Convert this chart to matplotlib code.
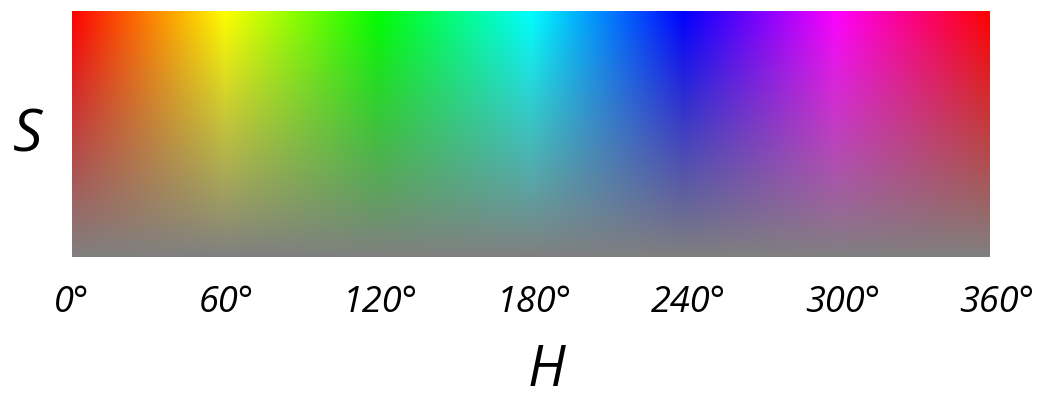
import numpy as np
import matplotlib
matplotlib.use("Agg")
import matplotlib.pyplot as plt
import colorsys

hue_ticks = [0, 60, 120, 180, 240, 300, 360]
tick_labels = ["0°", "60°", "120°", "180°", "240°", "300°", "360°"]
hue_range = [0, 360]
sat_range = [0, 1]
lightness = 0.5

n_h, n_s = 720, 200
hues = np.linspace(hue_range[0], hue_range[1], n_h)
sats = np.linspace(sat_range[1], sat_range[0], n_s)
img = np.zeros((n_s, n_h, 3))
for i, s in enumerate(sats):
    for j, h in enumerate(hues):
        img[i, j] = colorsys.hls_to_rgb(h / 360.0, lightness, s)

plt.rcParams['font.family'] = ['Open Sans', 'DejaVu Sans']
fig = plt.figure(figsize=(10.43, 4.05), dpi=100)
ax = fig.add_axes([0.069, 0.365, 0.887, 0.608])
ax.imshow(img, extent=(0, 357, 0, 1), aspect='auto', interpolation='bilinear')
ax.set_xlim(0, 360)
ax.set_ylim(0, 1)
for sp in ax.spines.values():
    sp.set_visible(False)
ax.set_yticks([])
ax.set_xticks(hue_ticks)
ax.set_xticklabels(tick_labels, fontsize=26, fontstyle='italic')
ax.tick_params(axis='x', length=0, pad=20)
ax.set_xlabel("H", fontsize=40, fontstyle='italic', va='center')
ax.xaxis.set_label_coords(0.513, -0.465)
ax.set_ylabel("S", fontsize=42, fontstyle='italic', rotation=0, va='center', ha='center')
ax.yaxis.set_label_coords(-0.048, 0.49)
fig.savefig("out.png", dpi=100, facecolor='white')
